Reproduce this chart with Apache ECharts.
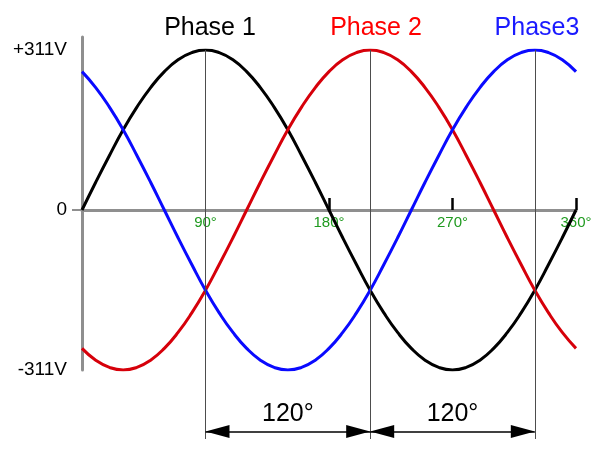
<!DOCTYPE html>
<html>
<head>
<meta charset="utf-8">
<script src="https://cdn.jsdelivr.net/npm/echarts@6/dist/echarts.min.js"></script>
<style>
html,body{margin:0;padding:0;background:#fff;}
#chart{width:613px;height:457px;}
</style>
</head>
<body>
<div id="chart"></div>
<script>
// ---- data ----
const degrees = [0,10,20,30,40,50,60,70,80,90,100,110,120,130,140,150,160,170,180,190,200,210,220,230,240,250,260,270,280,290,300,310,320,330,340,350,360];
const phase1 = [0,54,106,156,200,238,269,292,306,311,306,292,269,238,200,156,106,54,0,-54,-106,-156,-200,-238,-269,-292,-306,-311,-306,-292,-269,-238,-200,-156,-106,-54,0];
const phase2 = [-269,-292,-306,-311,-306,-292,-269,-238,-200,-156,-106,-54,0,54,106,156,200,238,269,292,306,311,306,292,269,238,200,156,106,54,0,-54,-106,-156,-200,-238,-269];
const phase3 = [269,238,200,156,106,54,0,-54,-106,-156,-200,-238,-269,-292,-306,-311,-306,-292,-269,-238,-200,-156,-106,-54,0,54,106,156,200,238,269,292,306,311,306,292,269];
const phaseNames = ['Phase 1','Phase 2','Phase3'];
const yTickValues = [-311,-155.5,0,155.5,311];
const yTickLabels = ['-311V','','0','','+311V'];
const xLabelValues = [90,180,270,360];
const xTickValues = [180,270,360];
const gridLineDegrees = [90,210,330];
const spans = [[90,210],[210,330]];
const spanLabels = ['120°','120°'];

const lineColors = ['#000000','#d6000a','#0a0aff'];
const titleColors = ['#000000','#ff0000','#1a1aff'];
const titleX = [210,376,537];
const FONT = '"Liberation Sans", Arial, sans-serif';

const chart = echarts.init(document.getElementById('chart'), null, {renderer:'canvas'});
const zip = arr => degrees.map((d,i)=>[d,arr[i]]);

const option = {
  backgroundColor:'#fff',
  animation:false,
  graphic: phaseNames.map((n,i)=>({
    type:'text', x:titleX[i], y:28,
    style:{text:n, fill:titleColors[i], fontSize:25, fontFamily:FONT, align:'center', verticalAlign:'middle'}
  })),
  grid:[
    {left:82, width:494, top:50, height:320},
    {left:82, width:494, top:370, height:69},
    {left:82, width:494, top:37, height:13}
  ],
  xAxis:[
    {gridIndex:0, type:'value', min:0, max:360, interval:90, position:'bottom', offset:-160,
      axisLine:{show:true, onZero:false, lineStyle:{color:'#8f8f8f', width:3}},
      axisTick:{show:true, inside:true, length:12, customValues:xTickValues, lineStyle:{color:'#000', width:2.5}},
      axisLabel:{show:true, customValues:xLabelValues, margin:5, color:'#1f9a1f', fontSize:15, fontFamily:FONT, formatter:v=>v+'°', showMaxLabel:true},
      splitLine:{show:false}},
    {gridIndex:1, type:'value', min:0, max:360, show:false},
    {gridIndex:2, type:'value', min:0, max:360, show:false}
  ],
  yAxis:[
    {gridIndex:0, type:'value', min:-311, max:311, interval:155.5,
      axisLine:{show:true, lineStyle:{color:'#8f8f8f', width:3}},
      axisTick:{show:true, customValues:[0], length:10, lineStyle:{color:'#8f8f8f', width:2}},
      axisLabel:{margin:15, color:'#000', fontSize:19, fontFamily:FONT,
        formatter:v=>{const i=yTickValues.indexOf(v); return i>=0?yTickLabels[i]:'';}},
      splitLine:{show:true, lineStyle:{color:'#9c9c9c', width:2}}},
    {gridIndex:1, type:'value', min:0, max:69, show:false},
    {gridIndex:2, type:'value', min:0, max:1,
      axisLine:{show:true, lineStyle:{color:'#8f8f8f', width:3}},
      axisTick:{show:false}, axisLabel:{show:false}, splitLine:{show:false}}
  ],
  series:[
    {type:'line', xAxisIndex:0, yAxisIndex:0, data:[], silent:true, z:1,
      markLine:{silent:true, symbol:'none', label:{show:false},
        lineStyle:{color:'#4d4d4d', width:1, type:'solid'},
        data:gridLineDegrees.map(d=>({xAxis:d}))}},
    ...[phase1,phase2,phase3].map((arr,i)=>({
      name:phaseNames[i], type:'line', xAxisIndex:0, yAxisIndex:0,
      data:zip(arr), smooth:true, symbol:'none', z:3,
      lineStyle:{color:lineColors[i], width:3}
    })),
    {type:'line', xAxisIndex:1, yAxisIndex:1, data:[], silent:true,
      markLine:{silent:true, animation:false, symbol:'none', label:{show:false},
        lineStyle:{color:'#4d4d4d', width:1, type:'solid'},
        data:gridLineDegrees.map(d=>({xAxis:d}))}},
    {type:'line', xAxisIndex:1, yAxisIndex:1, data:[], silent:true,
      markLine:{silent:true, animation:false,
        itemStyle:{color:'#000'},
        lineStyle:{color:'#000', width:1.5, type:'solid'},
        label:{show:true, position:'middle', color:'#000', fontSize:25, fontFamily:FONT, distance:5},
        data:spans.map((s,i)=>[
          {coord:[s[0],7.5], symbol:'triangle', symbolSize:[13,24], symbolOffset:[0,'50%'], label:{formatter:spanLabels[i]}},
          {coord:[s[1],7.5], symbol:'triangle', symbolSize:[13,24], symbolOffset:[0,'50%']}
        ])
      }}
  ]
};
chart.setOption(option);
</script>
</body>
</html>
